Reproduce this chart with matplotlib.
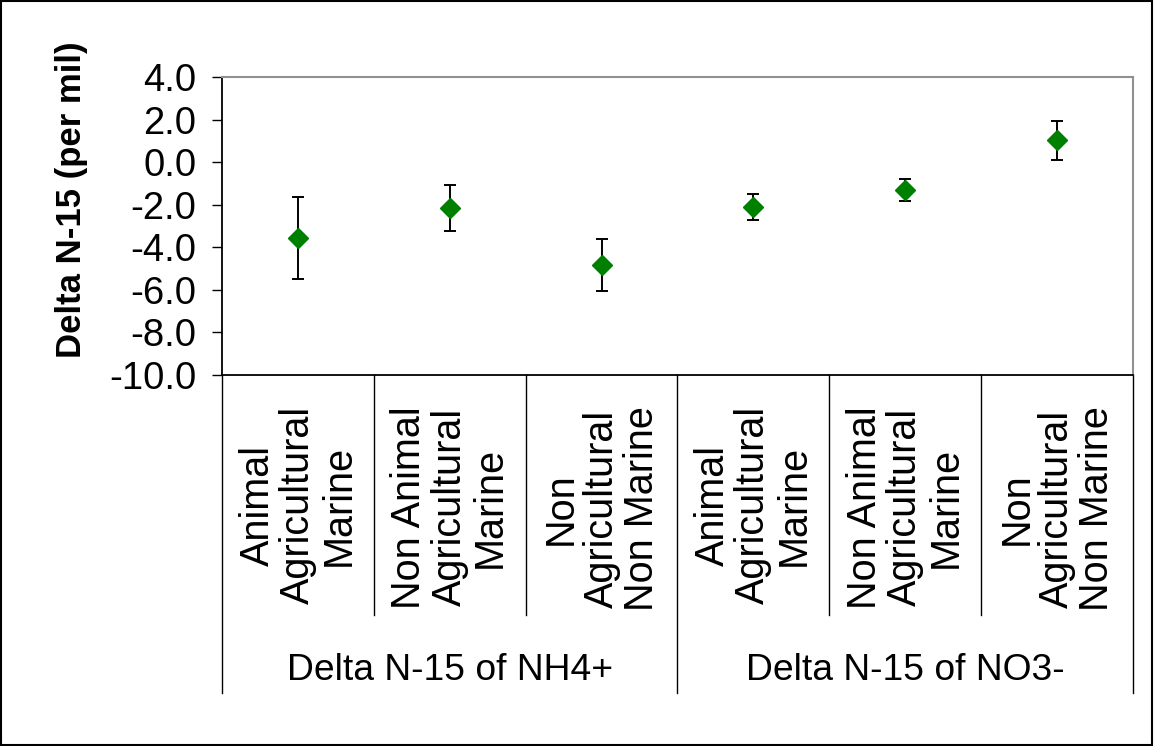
import matplotlib
matplotlib.use("Agg")
import matplotlib.pyplot as plt
from matplotlib.patches import Rectangle
from matplotlib.transforms import blended_transform_factory

plt.rcParams['font.family'] = ['Liberation Sans', 'DejaVu Sans']

categories = ["Animal\nAgricultural\nMarine",
              "Non Animal\nAgricultural\nMarine",
              "Non\nAgricultural\nNon Marine",
              "Animal\nAgricultural\nMarine",
              "Non Animal\nAgricultural\nMarine",
              "Non\nAgricultural\nNon Marine"]
groups = ["Delta N-15 of NH4+", "Delta N-15 of NO3-"]
group_sizes = [3, 3]
means = [-3.56, -2.14, -4.82, -2.10, -1.31, 1.02]
errors = [1.92, 1.08, 1.23, 0.60, 0.51, 0.92]
yticks = [4.0, 2.0, 0.0, -2.0, -4.0, -6.0, -8.0, -10.0]

W, H = 1154, 746
fig = plt.figure(figsize=(W / 100, H / 100), dpi=100)
fig.patches.append(Rectangle((0.001, 0.002), 0.997, 0.996, transform=fig.transFigure,
                             fill=False, edgecolor='black', linewidth=1.5))

left, right, top, bottom = 222, 1133, 77, 375
ax = fig.add_axes([left / W, 1 - bottom / H, (right - left) / W, (bottom - top) / H])

x = list(range(len(means)))
ax.errorbar(x, means, yerr=errors, fmt='D', color='#008000', markersize=10,
            ecolor='black', elinewidth=1.4, capsize=4.5, capthick=1.4, zorder=3)

ax.set_xlim(-0.5, len(means) - 0.5)
ax.set_ylim(-10, 4)
ax.set_yticks(yticks)
ax.set_yticklabels([f"{v:.1f}" for v in yticks])
ax.tick_params(axis='y', direction='out', length=7.5, width=1.0, pad=11, labelsize=27.5)
ax.set_xticks([])

for s in ['top', 'right']:
    ax.spines[s].set_color('#909090')
    ax.spines[s].set_linewidth(1.5)
for s in ['left', 'bottom']:
    ax.spines[s].set_color('black')
    ax.spines[s].set_linewidth(1.3)

trans = blended_transform_factory(ax.transData, ax.transAxes)
ax_h = bottom - top
sub_y = -(615 - bottom) / ax_h
grp_y = -(693 - bottom) / ax_h

# separators
boundaries = [i - 0.5 for i in range(len(means) + 1)]
group_edges = [-0.5]
acc = -0.5
for g in group_sizes:
    acc += g
    group_edges.append(acc)
for b in boundaries:
    ylow = grp_y if any(abs(b - ge) < 1e-9 for ge in group_edges) else sub_y
    ax.plot([b, b], [0, ylow], transform=trans, color='black', lw=1.0, clip_on=False)

# category labels
for xi, lab in zip(x, categories):
    ax.text(xi, -(406 - bottom) / ax_h, lab, transform=trans, rotation=90, ha='center', va='top',
            multialignment='center', fontsize=28.5, linespacing=1.08)

# group labels
start = 0
for g, gs in zip(groups, group_sizes):
    cx = start + (gs - 1) / 2
    ax.text(cx, -(670 - bottom) / ax_h, g, transform=trans, ha='center', va='center',
            fontsize=26.8)
    start += gs

fig.text(72 / W, 1 - 200 / H, "Delta N-15 (per mil)", rotation=90, ha='center', va='center',
         fontsize=25, fontweight='bold')

fig.savefig("out.png", dpi=100)
